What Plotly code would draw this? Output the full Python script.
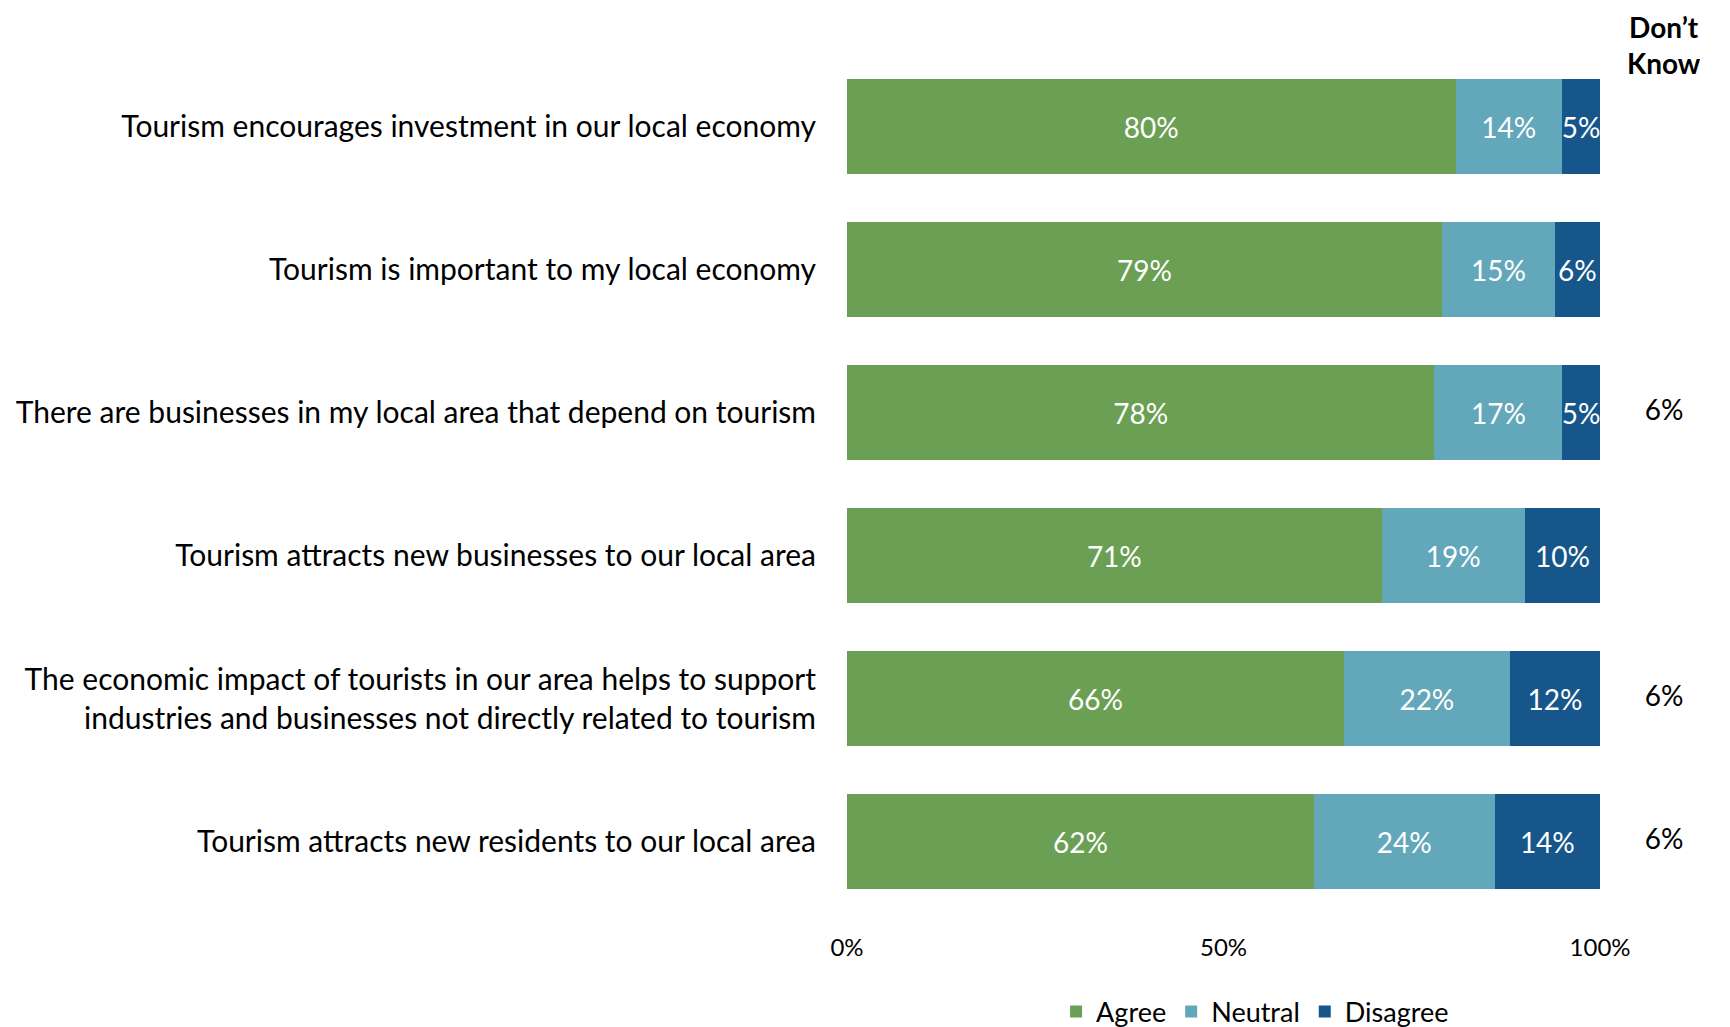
import plotly.graph_objects as go

categories = [
    "Tourism encourages investment in our local economy",
    "Tourism is important to my local economy",
    "There are businesses in my local area that depend on tourism",
    "Tourism attracts new businesses to our local area",
    "The economic impact of tourists in our area helps to support<br>industries and businesses not directly related to tourism",
    "Tourism attracts new residents to our local area",
]
agree = [80, 79, 78, 71, 66, 62]
neutral = [14, 15, 17, 19, 22, 24]
disagree = [5, 6, 5, 10, 12, 14]
dont_know = [None, None, 6, None, 6, 6]

series_names = ["Agree", "Neutral", "Disagree"]
colors = ["#6BA054", "#62A7BA", "#17568A"]
FONT = "Lato"
DK_X = 108.5

totals = [a + n + d for a, n, d in zip(agree, neutral, disagree)]
fig = go.Figure()
for name, vals, col in zip(series_names, [agree, neutral, disagree], colors):
    fig.add_trace(go.Bar(
        y=categories,
        x=[v / t * 100 for v, t in zip(vals, totals)],
        orientation="h",
        name=name,
        marker=dict(color=col, line=dict(width=0)),
        text=[f"{v}%" for v in vals],
        textposition="inside",
        insidetextanchor="middle",
        constraintext="none",
        cliponaxis=False,
        textangle=0,
        textfont=dict(color="white", size=28, family=FONT),
        hoverinfo="skip",
    ))

dk_cats = [c for c, d in zip(categories, dont_know) if d is not None]
dk_vals = [d for d in dont_know if d is not None]
fig.add_trace(go.Scatter(
    x=[DK_X] * len(dk_cats), y=dk_cats, mode="text",
    text=[f"{d}%" for d in dk_vals], textposition="middle center",
    textfont=dict(size=28, color="black", family=FONT),
    cliponaxis=False, showlegend=False, hoverinfo="skip",
))

fig.add_annotation(x=DK_X, y=1.012, xref="x", yref="paper", text="<b>Don’t<br>Know</b>",
                   showarrow=False, yanchor="middle", xanchor="center", borderpad=0,
                   font=dict(size=28, color="black", family=FONT))

fig.update_layout(
    width=1722, height=1019,
    margin=dict(l=839, r=17, t=47, b=114, autoexpand=False),
    barmode="stack",
    bargap=0.336,
    plot_bgcolor="white",
    paper_bgcolor="white",
    font=dict(family=FONT, color="black"),
    legend=dict(orientation="h", xref="container", yref="container",
                x=0.7242, xanchor="center", y=0.0147, yanchor="middle",
                font=dict(size=27, family=FONT), traceorder="normal"),
    xaxis=dict(range=[0, 115], tickvals=[0, 50, 100], ticktext=["0%", "50%", "100%"],
               showgrid=False, zeroline=False, showline=False, ticks="", automargin=False,
               tickfont=dict(size=24, family=FONT), ticklabelstandoff=18, fixedrange=True),
    yaxis=dict(autorange="reversed", showgrid=False, showline=False, ticks="", automargin=False,
               tickfont=dict(size=30, family=FONT), ticklabelstandoff=30),
)

fig.write_html("out.html")
